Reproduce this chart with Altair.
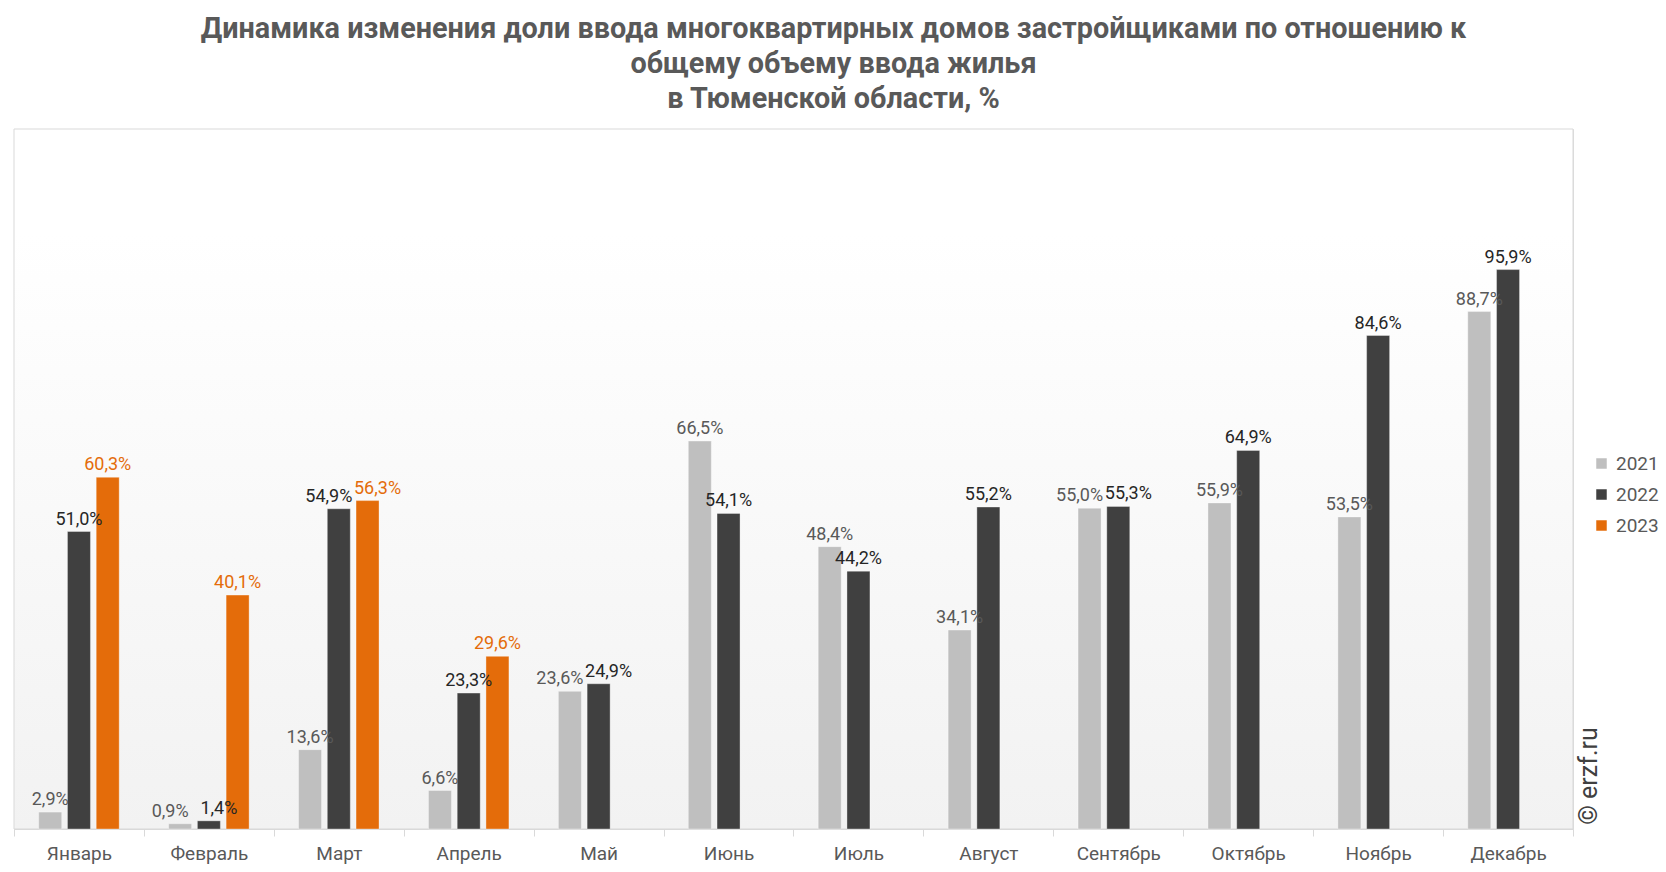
import altair as alt
import pandas as pd

months = ["Январь", "Февраль", "Март", "Апрель", "Май", "Июнь", "Июль",
          "Август", "Сентябрь", "Октябрь", "Ноябрь", "Декабрь"]
years = ["2021", "2022", "2023"]
v2021 = [2.9, 0.9, 13.6, 6.6, 23.6, 66.5, 48.4, 34.1, 55.0, 55.9, 53.5, 88.7]
v2022 = [51.0, 1.4, 54.9, 23.3, 24.9, 54.1, 44.2, 55.2, 55.3, 64.9, 84.6, 95.9]
v2023 = [60.3, 40.1, 56.3, 29.6]
colors = ["#bfbfbf", "#404040", "#e46c0a"]
label_colors = ["#595959", "#262626", "#e46c0a"]

series = {"2021": v2021, "2022": v2022, "2023": v2023}
rows = []
for yr in years:
    for m, v in zip(months, series[yr]):
        rows.append({"month": m, "year": yr, "value": v,
                     "label": f"{v:.1f}".replace(".", ",") + "%", "shift": 0})
df = pd.DataFrame(rows)

# spread apart labels of neighbouring bars whose labels would collide
for m in months:
    sub = df[df.month == m].sort_values("year")
    idx = list(sub.index)
    for a, b in zip(idx[:-1], idx[1:]):
        if abs(df.at[a, "value"] - df.at[b, "value"]) < 3.5:
            df.at[a, "shift"] = -1
            df.at[b, "shift"] = 1

W, H = 1559, 700

x = alt.X("month:N", sort=months, title=None,
          scale=alt.Scale(paddingInner=0, paddingOuter=0),
          axis=alt.Axis(tickBand="extent", labelAngle=0, labelFont="Roboto",
                        labelFontSize=19, labelColor="#595959", domainColor="#d9d9d9",
                        tickColor="#d9d9d9", tickSize=7, labelPadding=8, grid=False))
xo = alt.XOffset("year:N", sort=years,
                 scale=alt.Scale(domain=years, paddingInner=0.2, paddingOuter=0.86))
y = alt.Y("value:Q", scale=alt.Scale(domain=[0, 120], nice=False), axis=None)

bg = alt.Chart(pd.DataFrame({"a": [0]})).mark_rect(
    fill=alt.Gradient(gradient="linear", x1=0, x2=0, y1=0, y2=1,
                      stops=[alt.GradientStop(color="#ffffff", offset=0),
                             alt.GradientStop(color="#ffffff", offset=0.15),
                             alt.GradientStop(color="#f2f2f2", offset=1)]),
    stroke="#d9d9d9", strokeWidth=1
).encode(x=alt.value(0), x2=alt.value(W), y=alt.value(0), y2=alt.value(H))

bars = alt.Chart(df).mark_bar(stroke="#ffffff", strokeOpacity=0.35, strokeWidth=1).encode(
    x=x, xOffset=xo, y=y,
    color=alt.Color("year:N", sort=years,
                    scale=alt.Scale(domain=years, range=colors),
                    legend=alt.Legend(title=None, orient="none", legendX=1578, legendY=325,
                                      labelFont="Roboto", labelFontSize=19,
                                      labelColor="#595959", symbolType="square",
                                      symbolSize=110, symbolStrokeWidth=0,
                                      rowPadding=11, labelOffset=5))
)

label_layers = []
for s, dxv in [(-1, -10), (0, 0), (1, 10)]:
    label_layers.append(
        alt.Chart(df).transform_filter(alt.datum.shift == s).mark_text(
            baseline="bottom", dy=-3, dx=dxv, font="Roboto", fontSize=18).encode(
            x=x, xOffset=xo, y=y, text="label:N",
            color=alt.Color("year:N", sort=years,
                            scale=alt.Scale(domain=years, range=label_colors), legend=None)
        )
    )

wm = alt.Chart(pd.DataFrame({"t": ["© erzf.ru"]})).mark_text(
    angle=270, font="Roboto", fontSize=25, color="#404040", baseline="middle", align="center"
).encode(x=alt.value(1575), y=alt.value(647), text="t:N")

chart = alt.layer(bg, bars, *label_layers, wm).resolve_scale(color="independent").properties(
    width=W, height=H,
    title=alt.TitleParams(
        ["Динамика изменения доли ввода многоквартирных домов застройщиками по отношению к",
         "общему объему ввода жилья", "в Тюменской области, %"],
        font="Roboto", fontSize=28.8, fontWeight="bold", color="#595959",
        anchor="middle", dx=40, offset=15, lineHeight=35),
    padding={"left": 14, "top": 129, "right": 93, "bottom": 43},
    autosize=alt.AutoSizeParams(type="none")
).configure_view(stroke=None).configure(background="#ffffff")

chart.save("out.html", embed_options={"renderer": "svg", "actions": False})
